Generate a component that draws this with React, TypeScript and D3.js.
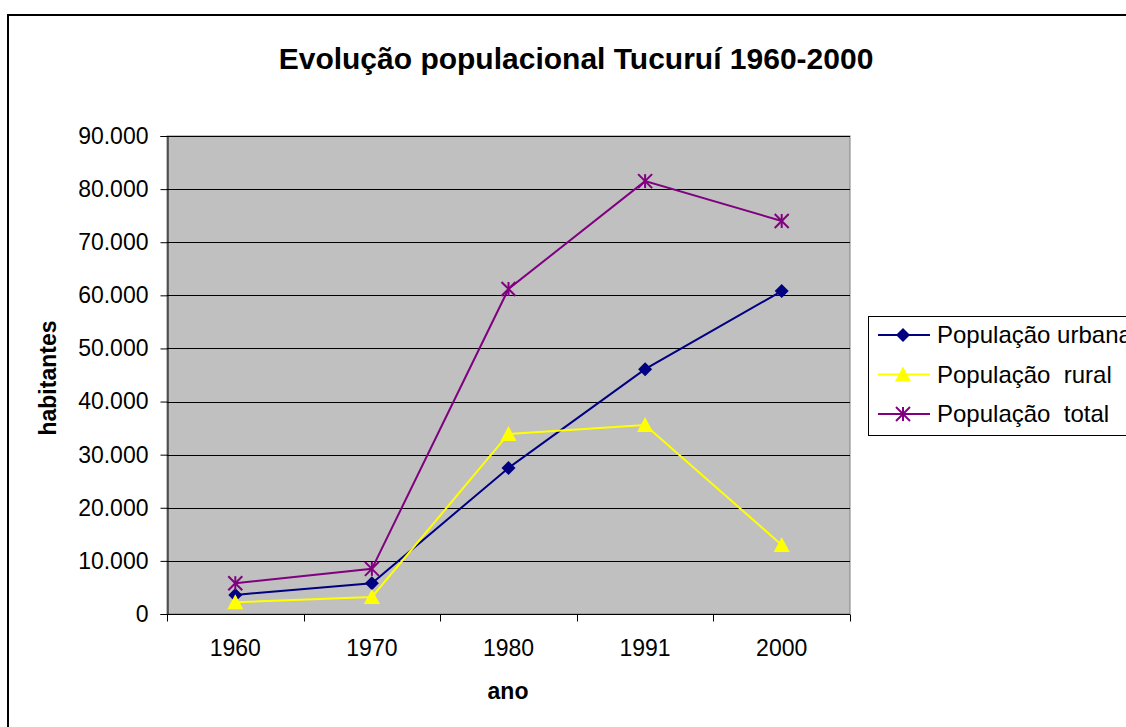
import React, { useEffect, useRef } from 'react';
import * as d3 from 'd3';

const years = ['1960', '1970', '1980', '1991', '2000'];
const urbana = [3600, 5800, 27500, 46100, 60800];
const rural = [2200, 3200, 33900, 35600, 13000];
const total = [5800, 8500, 61200, 81500, 74000];
const yTicks = [0, 10000, 20000, 30000, 40000, 50000, 60000, 70000, 80000, 90000];

interface Series {
  name: string;
  color: string;
  marker: 'diamond' | 'triangle' | 'star';
  values: number[];
}

const series: Series[] = [
  { name: 'População urbana', color: '#000080', marker: 'diamond', values: urbana },
  { name: 'População  rural', color: '#FFFF00', marker: 'triangle', values: rural },
  { name: 'População  total', color: '#800080', marker: 'star', values: total },
];

const fmt = (v: number) => (v === 0 ? '0' : d3.format(',')(v).replace(/,/g, '.'));

const W = 1126;
const H = 727;

const App: React.FC = () => {
  const svgRef = useRef<SVGSVGElement>(null);

  useEffect(() => {
    if (!svgRef.current) return;
    const svg = d3.select(svgRef.current);
    svg.selectAll('*').remove();
    const font = 'Liberation Sans, Arial, sans-serif';

    // outer chart frame
    svg.append('rect')
      .attr('x', 8).attr('y', 15)
      .attr('width', 1130).attr('height', 730)
      .attr('fill', '#fff').attr('stroke', '#000').attr('stroke-width', 2);

    const plot = { left: 167, right: 850, top: 136, bottom: 614 };

    const x = d3.scaleBand<string>()
      .domain(years)
      .range([plot.left, plot.right]);
    const y = d3.scaleLinear()
      .domain([0, 90000])
      .range([plot.bottom, plot.top]);

    // plot area
    svg.append('rect')
      .attr('x', plot.left).attr('y', plot.top)
      .attr('width', plot.right - plot.left).attr('height', plot.bottom - plot.top)
      .attr('fill', '#C0C0C0').attr('stroke', '#808080').attr('stroke-width', 1);

    // grid lines
    svg.append('g')
      .selectAll('line')
      .data(yTicks.filter(t => t > 0))
      .enter().append('line')
      .attr('x1', plot.left).attr('x2', plot.right)
      .attr('y1', d => Math.round(y(d)) + 0.5).attr('y2', d => Math.round(y(d)) + 0.5)
      .attr('stroke', '#000').attr('stroke-width', 1);

    // Y axis
    const yAxis = svg.append('g')
      .attr('transform', `translate(${plot.left + 0.5},0)`)
      .call(d3.axisLeft(y).tickValues(yTicks).tickSize(7).tickPadding(12).tickFormat(d => fmt(d as number)));
    yAxis.select('.domain').attr('stroke', '#000');
    yAxis.selectAll('text')
      .attr('font-family', font).attr('font-size', 23)
      .style('font-family', font).style('font-size', '23px').attr('fill', '#000');

    // X axis
    const xAxis = svg.append('g')
      .attr('transform', `translate(0,${plot.bottom + 0.5})`);
    xAxis.append('line')
      .attr('x1', plot.left).attr('x2', plot.right)
      .attr('stroke', '#000');
    const bounds = years.map(yr => x(yr) as number).concat([plot.right]);
    xAxis.selectAll('line.tk')
      .data(bounds)
      .enter().append('line')
      .attr('class', 'tk')
      .attr('x1', d => Math.round(d) + 0.5).attr('x2', d => Math.round(d) + 0.5)
      .attr('y1', 0).attr('y2', 7)
      .attr('stroke', '#000');
    xAxis.selectAll('text')
      .data(years)
      .enter().append('text')
      .attr('x', d => (x(d) as number) + x.bandwidth() / 2)
      .attr('y', 41)
      .attr('text-anchor', 'middle')
      .style('font-family', font).style('font-size', '23px')
      .text(d => d);

    // lines & markers
    const cx = (i: number) => (x(years[i]) as number) + x.bandwidth() / 2;
    const line = d3.line<number>()
      .x((_, i) => cx(i))
      .y(d => y(d));

    const drawMarker = (g: d3.Selection<SVGGElement, unknown, null, undefined>, s: Series, px: number, py: number) => {
      if (s.marker === 'diamond') {
        g.append('path')
          .attr('d', `M${px},${py - 7}L${px + 7},${py}L${px},${py + 7}L${px - 7},${py}Z`)
          .attr('fill', s.color);
      } else if (s.marker === 'triangle') {
        g.append('path')
          .attr('d', `M${px},${py - 8}L${px + 8},${py + 7}L${px - 8},${py + 7}Z`)
          .attr('fill', s.color);
      } else {
        const r = 7;
        const p = [
          [0, -r, 0, r],
          [-r, -r, r, r],
          [-r, r, r, -r],
        ];
        p.forEach(([a, b, c, d]) => {
          g.append('line')
            .attr('x1', px + a).attr('y1', py + b)
            .attr('x2', px + c).attr('y2', py + d)
            .attr('stroke', s.color).attr('stroke-width', 2);
        });
      }
    };

    series.forEach(s => {
      const g = svg.append('g');
      g.append('path')
        .datum(s.values)
        .attr('fill', 'none')
        .attr('stroke', s.color)
        .attr('stroke-width', 2)
        .attr('d', line);
      s.values.forEach((v, i) => drawMarker(g, s, cx(i), y(v)));
    });

    // title
    svg.append('text')
      .attr('x', 576).attr('y', 69)
      .attr('text-anchor', 'middle')
      .style('font-family', font).style('font-size', '30px').style('font-weight', 'bold')
      .text('Evolução populacional Tucuruí 1960-2000');

    // axis titles
    svg.append('text')
      .attr('x', 508).attr('y', 699)
      .attr('text-anchor', 'middle')
      .style('font-family', font).style('font-size', '23px').style('font-weight', 'bold')
      .text('ano');
    svg.append('text')
      .attr('transform', 'translate(56,378) rotate(-90)')
      .attr('text-anchor', 'middle')
      .style('font-family', font).style('font-size', '23px').style('font-weight', 'bold')
      .text('habitantes');

    // legend
    const legend = svg.append('g');
    legend.append('rect')
      .attr('x', 868.5).attr('y', 316.5)
      .attr('width', 300).attr('height', 119)
      .attr('fill', '#fff').attr('stroke', '#000').attr('stroke-width', 1);
    series.forEach((s, i) => {
      const ly = 335 + i * 39.5;
      const g = legend.append('g');
      g.append('line')
        .attr('x1', 878).attr('x2', 930)
        .attr('y1', ly).attr('y2', ly)
        .attr('stroke', s.color).attr('stroke-width', 2);
      drawMarker(g, s, 903, ly);
      g.append('text')
        .attr('x', 937).attr('y', ly + 8)
        .style('font-family', font).style('font-size', '24px')
        .style('white-space', 'pre')
        .text(s.name);
    });
  }, []);

  return (
    <svg ref={svgRef} width={W} height={H}
      style={{ position: 'absolute', left: 0, top: 0, background: '#fff' }} />
  );
};

export default App;
